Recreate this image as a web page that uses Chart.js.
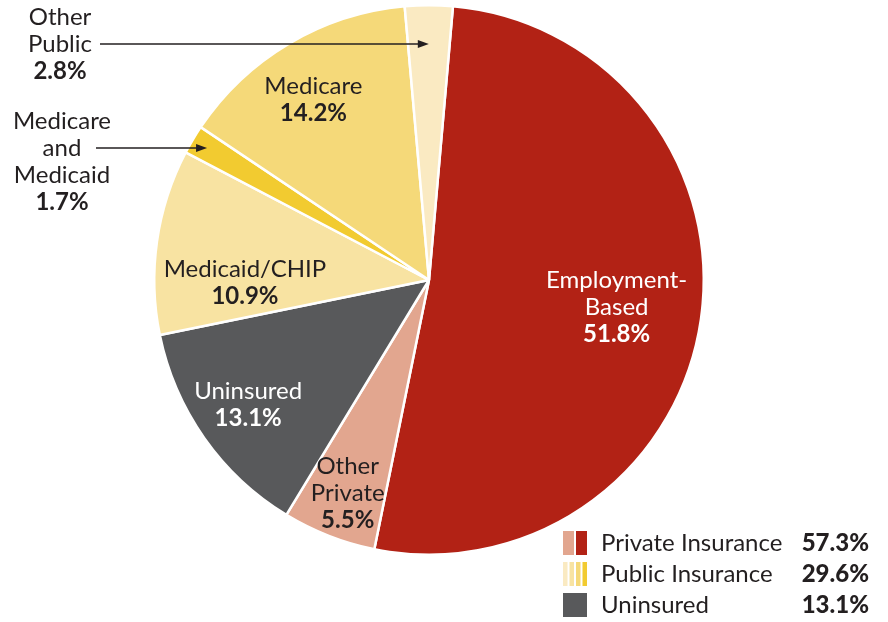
<!DOCTYPE html>
<html>
<head>
<meta charset="utf-8">
<script src="https://cdn.jsdelivr.net/npm/chart.js@4"></script>
<style>
  html, body { margin: 0; padding: 0; background: #fff; }
  #wrap { width: 888px; height: 622px; position: relative; }
</style>
</head>
<body>
<div id="wrap"><canvas id="pie" width="888" height="622"></canvas></div>
<script>
// slices, clockwise from just right of 12 o'clock
var categories = ['Employment-Based', 'Other Private', 'Uninsured', 'Medicaid/CHIP', 'Medicare and Medicaid', 'Medicare', 'Other Public'];
var shares = [51.8, 5.5, 13.1, 10.9, 1.7, 14.2, 2.8];
var colors = ['#B22215', '#E2A68F', '#58595B', '#F8E3A2', '#F2CB30', '#F5D979', '#FAEAC2'];

// text drawn on each slice (lines before the bold value)
var sliceText = [['Employment-', 'Based'], ['Other', 'Private'], ['Uninsured'], ['Medicaid/CHIP'], ['Medicare', 'and', 'Medicaid'], ['Medicare'], ['Other', 'Public']];

var legendNames = ['Private Insurance', 'Public Insurance', 'Uninsured'];
var legendTotals = ['57.3%', '29.6%', '13.1%'];

var FONT = 'Lato, "Open Sans", sans-serif';
var DARK = '#231F20';

// where each label sits: inside at a fraction of the radius, or outside with an arrow
var labelPlace = [
  { r: 0.69, shift: 0, color: '#fff' },
  { r: 0.83, shift: -0.5, color: DARK },
  { r: 0.80, shift: 0.5, color: '#fff' },
  { r: 0.67, shift: -9, color: DARK },
  { out: true, x: 62, y: 121, tip: 0.89, lineFrom: 96, arrowLine: 1 },
  { r: 0.78, shift: -2, color: DARK },
  { out: true, x: 60, y: 17, tip: 0.86, lineFrom: 100, arrowLine: 1 }
];

var lineH = 27;
var SIZE = 24;

var sliceLabels = {
  id: 'sliceLabels',
  afterDatasetsDraw: function (chart) {
    var c = chart.ctx;
    var arcs = chart.getDatasetMeta(0).data;
    c.save();
    c.textAlign = 'center';
    c.textBaseline = 'middle';
    arcs.forEach(function (arc, i) {
      var p = labelPlace[i];
      var lines = sliceText[i];
      var mid = (arc.startAngle + arc.endAngle) / 2;
      if (!p.out) {
        var a = mid + p.shift * Math.PI / 180;
        var r = arc.outerRadius * p.r;
        var cx = arc.x + Math.cos(a) * r;
        var cy = arc.y + Math.sin(a) * r;
        var total = lines.length + 1;
        var y0 = cy - (total - 1) * lineH / 2;
        c.fillStyle = p.color;
        c.font = SIZE + 'px ' + FONT;
        lines.forEach(function (t, k) { c.fillText(t, cx, y0 + k * lineH); });
        c.font = 'bold ' + SIZE + 'px ' + FONT;
        c.fillText(shares[i].toFixed(1) + '%', cx, y0 + lines.length * lineH);
      } else {
        c.fillStyle = DARK;
        c.font = SIZE + 'px ' + FONT;
        lines.forEach(function (t, k) { c.fillText(t, p.x, p.y + k * lineH); });
        c.font = 'bold ' + SIZE + 'px ' + FONT;
        c.fillText(shares[i].toFixed(1) + '%', p.x, p.y + lines.length * lineH);
        // arrow pointing horizontally into the slice
        var ay = p.y + p.arrowLine * lineH;
        var tr = arc.outerRadius * p.tip;
        var dy = ay - arc.y;
        var tipX = arc.x + Math.cos(mid) * tr;
        if (Math.abs(Math.sin(mid)) > 0.2) {
          tipX = arc.x + dy / Math.tan(mid);
        }
        c.strokeStyle = DARK;
        c.lineWidth = 1.3;
        c.beginPath();
        c.moveTo(p.lineFrom, ay);
        c.lineTo(tipX - 8, ay);
        c.stroke();
        c.beginPath();
        c.moveTo(tipX, ay);
        c.lineTo(tipX - 11, ay - 4);
        c.lineTo(tipX - 11, ay + 4);
        c.closePath();
        c.fill();
      }
    });
    c.restore();
  }
};

// legend with split swatches: private slices, public slices, uninsured
var groupLegend = {
  id: 'groupLegend',
  afterDraw: function (chart) {
    var c = chart.ctx;
    var groups = [[1, 0], [6, 3, 5, 4], [2]];
    var x0 = 563, top = 531, rowH = 31, sw = 24, sh = 24;
    c.save();
    groups.forEach(function (g, row) {
      var y = top + row * rowH;
      var w = (sw - (g.length - 1) * 2) / g.length;
      if (g.length === 1) w = sw;
      g.forEach(function (idx, k) {
        c.fillStyle = colors[idx];
        c.fillRect(x0 + k * (w + 2), y, w, sh);
      });
      c.fillStyle = DARK;
      c.textBaseline = 'middle';
      c.textAlign = 'left';
      c.font = SIZE + 'px ' + FONT;
      c.fillText(legendNames[row], 601, y + sh / 2);
      c.textAlign = 'right';
      c.font = '900 ' + SIZE + 'px ' + FONT;
      c.fillText(legendTotals[row], 869, y + sh / 2);
    });
    c.restore();
  }
};

new Chart(document.getElementById('pie'), {
  type: 'pie',
  data: {
    labels: categories,
    datasets: [{
      data: shares,
      backgroundColor: colors,
      borderColor: '#fff',
      borderWidth: 2.5
    }]
  },
  options: {
    responsive: false,
    animation: false,
    rotation: 5,
    layout: { padding: { left: 153, right: 183, top: 4, bottom: 66 } },
    plugins: {
      legend: { display: false },
      tooltip: { enabled: false }
    }
  },
  plugins: [sliceLabels, groupLegend]
});
</script>
</body>
</html>
